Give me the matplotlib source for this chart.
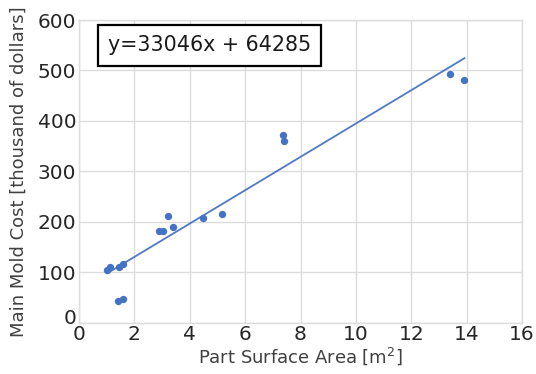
import matplotlib
matplotlib.use("Agg")
import matplotlib.pyplot as plt
import matplotlib.transforms as mtransforms
import numpy as np

# Part surface area [m^2] and main mold cost [thousand dollars]
area = [1.02, 1.12, 1.46, 1.58, 1.42, 1.58, 2.90, 3.02, 3.23, 3.38,
        4.49, 5.15, 7.38, 7.40, 13.40, 13.92]
cost = [105.0, 111.0, 111.0, 116.0, 43.6, 47.6, 182.4, 182.4, 211.5, 190.3,
        206.9, 215.5, 372.7, 360.0, 493.6, 481.7]

# Linear trendline (cost in dollars = slope * area + intercept)
slope = 33046
intercept = 64285

x_ticks = [0, 2, 4, 6, 8, 10, 12, 14, 16]
y_ticks = [0, 100, 200, 300, 400, 500, 600]

blue = "#4472C4"
line_blue = "#5079C4"
grid_col = "#DCDCDC"
text_col = "#404040"

fig = plt.figure(figsize=(5.36, 3.74), dpi=100)
ax = fig.add_axes([0.1474, 0.1372, 0.8265, 0.8093])

ax.set_xlim(0, 16)
ax.set_ylim(0, 600)
ax.set_xticks(x_ticks)
ax.set_yticks(y_ticks)
ax.grid(True, color=grid_col, linewidth=1.0)
ax.set_axisbelow(True)
for s in ax.spines.values():
    s.set_color(grid_col)
    s.set_linewidth(1.0)
ax.tick_params(length=0, labelsize=14.5, labelcolor="#262626", pad=2)

ax.scatter(area, cost, s=28, color=blue, zorder=3, linewidths=0)

xs = np.array([min(area), max(area)])
ax.plot(xs, (slope * xs + intercept) / 1000.0, color=line_blue, linewidth=1.3, zorder=2)

ax.set_xlabel("Part Surface Area [m$^2$]", fontsize=13, color=text_col, labelpad=1)
ax.set_ylabel("Main Mold Cost [thousand of dollars]", fontsize=13, color=text_col, labelpad=7)

# lift the "0" tick label a little above the axis line
lbl0 = ax.get_yticklabels()[0]
lbl0.set_transform(lbl0.get_transform() + mtransforms.ScaledTranslation(0, 6 / 100, fig.dpi_scale_trans))

ax.text(0.0655, 0.916, f"y={slope}x + {intercept}", transform=ax.transAxes,
        fontsize=14.9, color="#1a1a1a", va="center", ha="left",
        bbox=dict(boxstyle="square,pad=0.5", facecolor="white", edgecolor="black", linewidth=1.6))

fig.savefig("out.png", dpi=100)
